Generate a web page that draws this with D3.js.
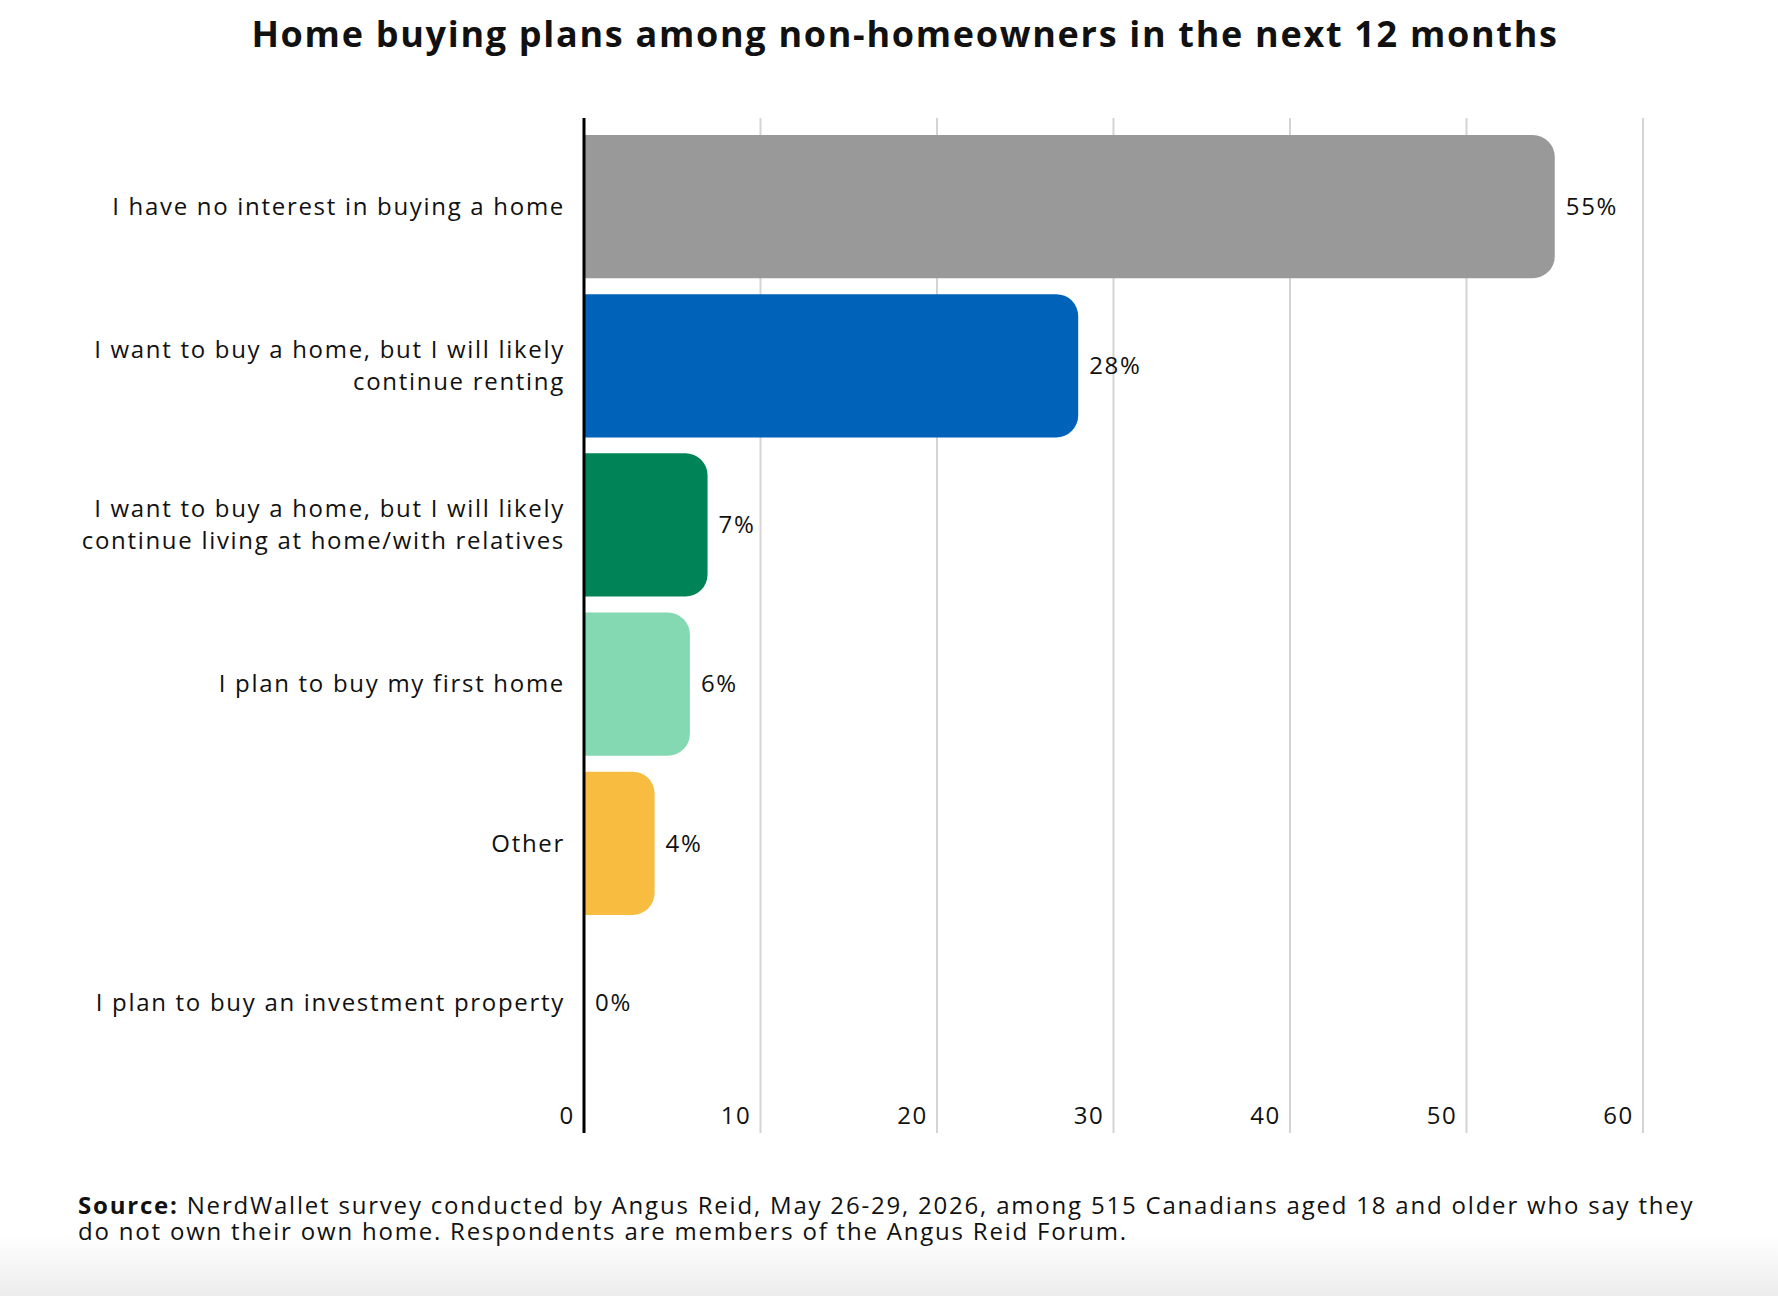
<!DOCTYPE html>
<html>
<head>
<meta charset="utf-8">
<script src="https://cdn.jsdelivr.net/npm/d3@7"></script>
<style>
  body { margin: 0; background: #fff; }
  svg text { font-family: "Open Sans", "Noto Sans", sans-serif; fill: #111; letter-spacing: 1.7px; }
</style>
</head>
<body>
<svg id="chart"></svg>
<script>
// survey answers, top to bottom
let categories = [
    ["I have no interest in buying a home"],
    ["I want to buy a home, but I will likely", "continue renting"],
    ["I want to buy a home, but I will likely", "continue living at home/with relatives"],
    ["I plan to buy my first home"],
    ["Other"],
    ["I plan to buy an investment property"]
];
let values = [55, 28, 7, 6, 4, 0];
let barColors = ["#999999", "#0062b8", "#008457", "#84d8b2", "#f8bc40", "#cccccc"];
let ticks = [0, 10, 20, 30, 40, 50, 60];

let titleText = "Home buying plans among non-homeowners in the next 12 months";
let sourceLines = [
    "NerdWallet survey conducted by Angus Reid, May 26-29, 2026, among 515 Canadians aged 18 and older who say they",
    "do not own their own home. Respondents are members of the Angus Reid Forum."
];

function drawChart() {
    let w = 1778, h = 1296;

    let svg = d3.select("#chart")
        .attr('width', w)
        .attr('height', h);

    // faint grey fade at the very bottom
    let grad = svg.append('defs').append('linearGradient')
        .attr('id', 'fade').attr('x1', 0).attr('y1', 0).attr('x2', 0).attr('y2', 1);
    grad.append('stop').attr('offset', '0%').attr('stop-color', '#fff');
    grad.append('stop').attr('offset', '100%').attr('stop-color', '#ececec');
    svg.append('rect')
        .attr('x', 0).attr('y', 1235).attr('width', w).attr('height', h - 1235)
        .attr('fill', 'url(#fade)');

    let x = d3.scaleLinear().domain([0, 60]).range([584, 1643]);
    let y = d3.scaleBand()
        .domain(d3.range(values.length))
        .range([127, 1082])
        .paddingInner(0.1)
        .paddingOuter(0.05);

    let top = 118, bottom = 1133;

    svg.append('text')
        .attr('x', 905).attr('y', 47)
        .attr('text-anchor', 'middle')
        .style('font-size', '36px')
        .style('font-weight', 'bold')
        .text(titleText);

    // gridlines
    svg.selectAll('line.grid')
        .data(ticks.slice(1))
        .enter()
        .append('line')
        .attr('class', 'grid')
        .attr('x1', d => x(d)).attr('x2', d => x(d))
        .attr('y1', top).attr('y2', bottom)
        .attr('stroke', '#d4d4d4')
        .attr('stroke-width', 2);

    // tick labels sit left of each gridline
    svg.selectAll('text.tick')
        .data(ticks)
        .enter()
        .append('text')
        .attr('class', 'tick')
        .attr('x', d => x(d) - 9)
        .attr('y', 1116)
        .attr('dy', '0.35em')
        .attr('text-anchor', 'end')
        .style('font-size', '24px')
        .text(d => d);

    // bars, rounded on the right end only
    let r = 22;
    svg.selectAll('path.bar')
        .data(values)
        .enter()
        .append('path')
        .attr('class', 'bar')
        .attr('fill', (d, i) => barColors[i])
        .attr('d', (d, i) => {
            let x0 = x(0), x1 = x(d), y0 = y(i), bh = y.bandwidth();
            if (x1 - x0 < 1) return '';
            let rr = Math.min(r, x1 - x0);
            return `M${x0},${y0}H${x1 - rr}A${rr},${rr} 0 0 1 ${x1},${y0 + rr}` +
                `V${y0 + bh - rr}A${rr},${rr} 0 0 1 ${x1 - rr},${y0 + bh}H${x0}Z`;
        });

    // value labels
    svg.selectAll('text.val')
        .data(values)
        .enter()
        .append('text')
        .attr('class', 'val')
        .attr('x', d => x(d) + 11)
        .attr('y', (d, i) => y(i) + y.bandwidth() / 2)
        .attr('dy', '0.35em')
        .style('font-size', '24px')
        .text(d => d + '%');

    // category labels
    let lineGap = 32;
    let cats = svg.selectAll('text.cat')
        .data(categories)
        .enter()
        .append('text')
        .attr('class', 'cat')
        .attr('text-anchor', 'end')
        .style('font-size', '24px')
        .attr('y', (d, i) => y(i) + y.bandwidth() / 2 - (d.length - 1) * lineGap / 2);
    cats.selectAll('tspan')
        .data(d => d)
        .enter()
        .append('tspan')
        .attr('x', 565)
        .attr('dy', (d, j) => j === 0 ? '0.35em' : lineGap)
        .text(d => d);

    // black baseline axis
    svg.append('line')
        .attr('x1', x(0)).attr('x2', x(0))
        .attr('y1', top).attr('y2', bottom)
        .attr('stroke', '#000')
        .attr('stroke-width', 3);

    // source note, two lines in one text
    let src = svg.append('text')
        .attr('x', 78).attr('y', 1214)
        .style('font-size', '24px')
        .style('letter-spacing', '1.8px');
    src.append('tspan').style('font-weight', 'bold').text('Source: ');
    src.append('tspan').text(sourceLines[0]);
    src.append('tspan').attr('x', 78).attr('dy', 26).text(sourceLines[1]);
}

window.onload = function() {
    drawChart();
}
</script>
</body>
</html>
